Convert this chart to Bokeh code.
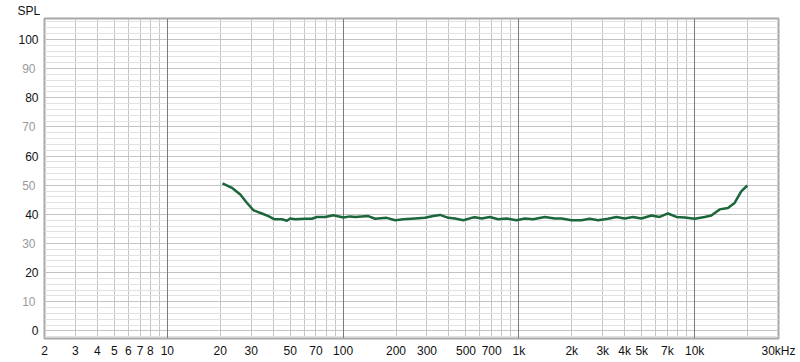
from bokeh.plotting import figure
from bokeh.models import FixedTicker, Grid, LinearAxis, Range1d
from bokeh.embed import file_html
from bokeh.resources import INLINE

# ---- data ----
freq_hz = [20.6, 23.3, 26.0, 28.4, 30.9, 34.5, 37.6, 40.7, 44.8, 47.9, 50.0, 53.4,
           60.8, 66.4, 70.9, 79.0, 88.1, 100.4, 109.6, 117, 139, 152, 177, 198, 220,
           257, 292, 326, 356, 397, 433, 483, 539, 562, 614, 684, 763, 851, 970,
           1082, 1206, 1405, 1601, 1748, 1993, 2270, 2532, 2822, 3217, 3589, 4000,
           4461, 4977, 5675, 6326, 7052, 7870, 8774, 10000, 11400, 12440, 13870,
           15460, 16880, 18420, 19930]
spl_db = [50.6, 49.1, 46.8, 43.9, 41.4, 40.3, 39.4, 38.3, 38.3, 37.8, 38.6, 38.3,
          38.5, 38.5, 39.1, 39.1, 39.7, 38.9, 39.3, 39.1, 39.4, 38.5, 38.8, 38.0, 38.3,
          38.6, 38.8, 39.4, 39.8, 38.8, 38.6, 38.0, 38.8, 39.0, 38.6, 39.1, 38.3, 38.6, 38.0,
          38.6, 38.3, 39.1, 38.6, 38.6, 38.0, 38.0, 38.5, 38.0, 38.5, 39.1, 38.6,
          39.1, 38.6, 39.6, 39.1, 40.3, 39.1, 38.9, 38.5, 39.1, 39.6, 41.7,
          42.2, 43.9, 47.9, 49.9]

x_tick_values = [2, 3, 4, 5, 6, 7, 8, 10, 20, 30, 50, 70, 100, 200, 300, 500, 700,
                 1000, 2000, 3000, 4000, 5000, 7000, 10000, 30000]
x_tick_labels = ["2", "3", "4", "5", "6", "7", "8", "10", "20", "30", "50", "70", "100",
                 "200", "300", "500", "700", "1k", "2k", "3k", "4k", "5k", "7k", "10k", "30kHz"]
y_black_ticks = [0, 20, 40, 60, 80, 100]
y_grey_ticks = [10, 30, 50, 70, 90]
x_grid_values = [m * 10 ** e for e in range(0, 5) for m in range(1, 10) if 2 <= m * 10 ** e <= 30000]
decades = [10, 100, 1000, 10000]
y_minor_grid = list(range(-2, 108, 2))
y_major_grid = list(range(0, 110, 10))

FONT = "Liberation Sans"

p = figure(width=800, height=362, x_axis_type="log",
           x_range=Range1d(2, 30000), y_range=Range1d(-2.6, 107.2),
           output_backend="svg", toolbar_location=None,
           min_border_left=44, min_border_right=22, min_border_top=17, min_border_bottom=24,
           background_fill_color="white", border_fill_color="white")

p.title.text = "SPL"
p.title.align = "left"
p.title.offset = -27
p.title.standoff = 2
p.title.text_font = FONT
p.title.text_font_size = "12px"
p.title.text_font_style = "normal"
p.title.text_color = "#111111"

p.outline_line_color = "#a8a8a8"
p.outline_line_width = 2

# grids
p.xgrid.ticker = FixedTicker(ticks=x_grid_values)
p.xgrid.grid_line_color = "#c4c4c4"
p.ygrid.ticker = FixedTicker(ticks=y_minor_grid)
p.ygrid.grid_line_color = "#e2e2e2"
p.add_layout(Grid(dimension=1, ticker=FixedTicker(ticks=y_major_grid), grid_line_color="#c4c4c4"))
p.add_layout(Grid(dimension=0, ticker=FixedTicker(ticks=decades), grid_line_color="#7a7a7a"))

# axes
xa = p.xaxis[0]
xa.ticker = FixedTicker(ticks=x_tick_values, minor_ticks=[])
xa.major_label_overrides = {v: s for v, s in zip(x_tick_values, x_tick_labels)}
ya = p.yaxis[0]
ya.ticker = FixedTicker(ticks=y_black_ticks, minor_ticks=[])
ya2 = LinearAxis(ticker=FixedTicker(ticks=y_grey_ticks, minor_ticks=[]))
p.add_layout(ya2, "left")
for ax in (xa, ya, ya2):
    ax.axis_line_color = None
    ax.major_tick_line_color = None
    ax.minor_tick_line_color = None
    ax.major_tick_out = 0
    ax.major_tick_in = 0
    ax.major_label_text_font = FONT
    ax.major_label_text_font_size = "12px"
    ax.major_label_text_color = "#111111"
ya2.major_label_text_color = "#9a9a9a"
xa.major_label_standoff = 5
ya.major_label_standoff = 6
ya2.major_label_standoff = -20

p.line(freq_hz, spl_db, line_color="#1b663a", line_width=2.5)

open("out.html", "w").write(file_html(p, INLINE))
